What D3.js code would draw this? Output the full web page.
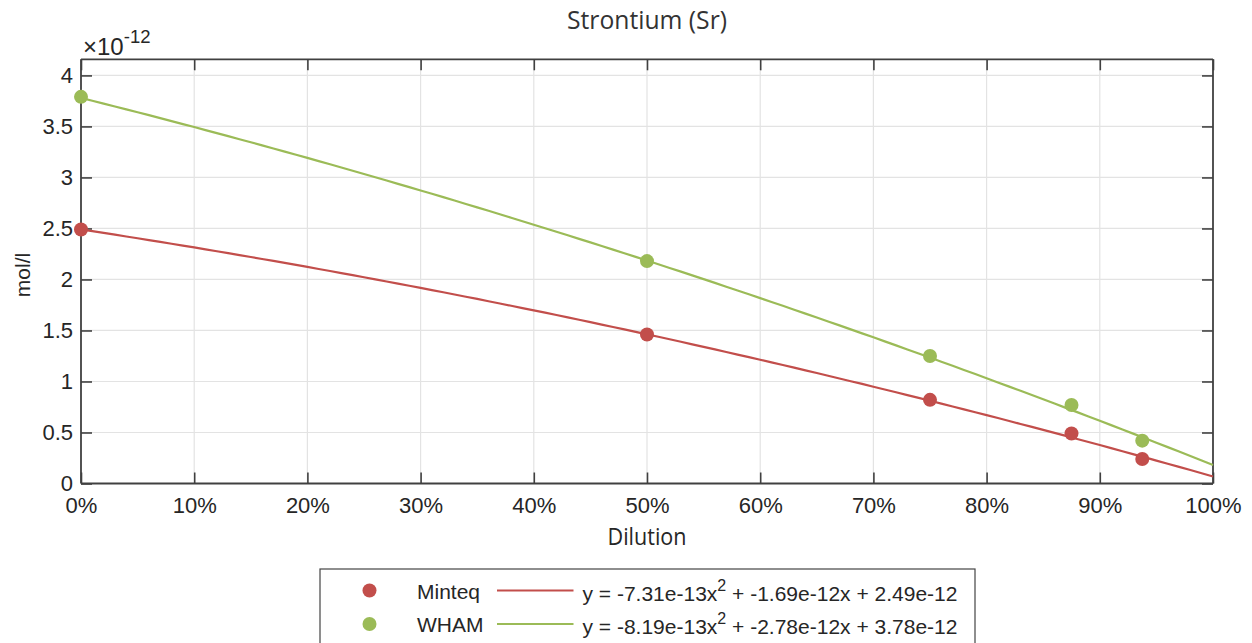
<!DOCTYPE html>
<html><head><meta charset="utf-8">
<script src="https://cdn.jsdelivr.net/npm/d3@7"></script>
<style>body{margin:0;background:#fff}</style>
</head><body>
<svg id="c" width="1252" height="643"></svg>
<script>
const dilution = [0, 0.5, 0.75, 0.875, 0.9375];
const minteq = [2.49, 1.46, 0.82, 0.49, 0.24];   // ×1e-12 mol/l
const wham   = [3.79, 2.18, 1.25, 0.77, 0.42];   // ×1e-12 mol/l
const minteqFit = [-0.731, -1.69, 2.49];  // a, b, c (×1e-12)
const whamFit   = [-0.819, -2.78, 3.78];
const seriesNames = ["Minteq", "WHAM"];
const fitLabels = ["y = -7.31e-13x", "y = -8.19e-13x"];
const fitLabelsRest = [" + -1.69e-12x + 2.49e-12", " + -2.78e-12x + 3.78e-12"];
const xTicks = [0,0.1,0.2,0.3,0.4,0.5,0.6,0.7,0.8,0.9,1];
const yTicks = [0,0.5,1,1.5,2,2.5,3,3.5,4];
const colors = ["#c24e4b", "#9bbb57"];

const svg = d3.select("#c");
const L=81, R=1213, T=59.3, B=483.5;
const x = d3.scaleLinear().domain([0,1]).range([L,R]);
const y = d3.scaleLinear().domain([0,4.158]).range([B,T]);
const axCol = "#404040";
const tickFont = "'Liberation Sans', Arial, Helvetica, sans-serif";
const humanFont = "'Open Sans', 'Noto Sans', sans-serif";

// grid
svg.append("g").selectAll("line").data(xTicks.slice(1,-1)).join("line")
  .attr("x1",d=>x(d)).attr("x2",d=>x(d)).attr("y1",T).attr("y2",B)
  .attr("stroke","#e3e3e3").attr("stroke-width",1.2);
svg.append("g").selectAll("line").data(yTicks.slice(1)).join("line")
  .attr("y1",d=>y(d)).attr("y2",d=>y(d)).attr("x1",L).attr("x2",R)
  .attr("stroke","#e3e3e3").attr("stroke-width",1.2);

// axes with inner ticks
const tl = 11;
const xb = svg.append("g").attr("transform",`translate(0,${B})`)
  .call(d3.axisBottom(x).tickValues(xTicks).tickSize(-tl).tickPadding(14).tickFormat(d=>Math.round(d*100)+"%"));
const xt = svg.append("g").attr("transform",`translate(0,${T})`)
  .call(d3.axisTop(x).tickValues(xTicks).tickSize(-tl).tickFormat(""));
const yl = svg.append("g").attr("transform",`translate(${L},0)`)
  .call(d3.axisLeft(y).tickValues(yTicks).tickSize(-tl).tickPadding(8).tickFormat(d3.format("")));
const yr = svg.append("g").attr("transform",`translate(${R},0)`)
  .call(d3.axisRight(y).tickValues(yTicks).tickSize(-tl).tickFormat(""));
[xb,xt,yl,yr].forEach(g=>{
  g.selectAll(".domain").attr("stroke",axCol).attr("stroke-width",1.8);
  g.selectAll(".tick line").attr("stroke",axCol).attr("stroke-width",1.6);
  g.selectAll("text").attr("fill","#262626").attr("font-family",tickFont).attr("font-size",22);
});
xb.selectAll(".domain").attr("d",`M${L},0H${R}`);
xt.selectAll(".domain").attr("d",`M${L},0H${R}`);
yl.selectAll(".domain").attr("d",`M0,${B}V${T}`);
yr.selectAll(".domain").attr("d",`M0,${B}V${T}`);

// exponent label
const ex = svg.append("text").attr("x",83).attr("y",55).attr("fill","#262626")
  .attr("font-family",tickFont).attr("font-size",24);
ex.append("tspan").text("×10");
ex.append("tspan").attr("dy",-12).attr("font-size",18.5).text("-12");

// titles
svg.append("text").attr("x",(L+R)/2).attr("y",28.5).attr("text-anchor","middle")
  .attr("font-family",humanFont).attr("font-size",26).attr("fill","#333")
  .attr("textLength",160).attr("lengthAdjust","spacingAndGlyphs").text("Strontium (Sr)");
svg.append("text").attr("x",(L+R)/2).attr("y",545).attr("text-anchor","middle")
  .attr("font-family",humanFont).attr("font-size",24).attr("fill","#262626")
  .attr("textLength",79).attr("lengthAdjust","spacingAndGlyphs").text("Dilution");
svg.append("text").attr("transform","translate(30,275) rotate(-90)").attr("text-anchor","middle")
  .attr("font-family",tickFont).attr("font-size",21).attr("fill","#262626").text("mol/l");

// fit curves
const fits = [minteqFit, whamFit];
const xs = d3.range(0,1.0001,0.01);
fits.forEach((f,i)=>{
  svg.append("path").datum(xs)
    .attr("d", d3.line().x(d=>x(d)).y(d=>y(f[0]*d*d+f[1]*d+f[2])))
    .attr("fill","none").attr("stroke",colors[i]).attr("stroke-width",2.2);
});
// points
[minteq, wham].forEach((s,i)=>{
  svg.append("g").selectAll("circle").data(s).join("circle")
    .attr("cx",(d,j)=>x(dilution[j])).attr("cy",d=>y(d)).attr("r",7)
    .attr("fill",colors[i]);
});

// legend
svg.append("rect").attr("x",320).attr("y",569).attr("width",655).attr("height",90)
  .attr("fill","#fff").attr("stroke","#444").attr("stroke-width",1.2);
seriesNames.forEach((n,i)=>{
  const cy = 590.5 + i*33.5;
  svg.append("circle").attr("cx",369.5).attr("cy",cy).attr("r",7).attr("fill",colors[i]);
  svg.append("text").attr("x",417).attr("y",cy+8).attr("font-family",tickFont)
    .attr("font-size",21).attr("fill","#262626").text(n);
  svg.append("line").attr("x1",497).attr("x2",573.5).attr("y1",cy).attr("y2",cy)
    .attr("stroke",colors[i]).attr("stroke-width",2.2);
  const t = svg.append("text").attr("x",582.5).attr("y",cy+10).attr("font-family",tickFont)
    .attr("font-size",21).attr("fill","#262626");
  t.append("tspan").text(fitLabels[i]);
  t.append("tspan").attr("dy",-10).attr("font-size",16).text("2");
  t.append("tspan").attr("dy",10).text(fitLabelsRest[i]);
});
</script>
</body></html>
